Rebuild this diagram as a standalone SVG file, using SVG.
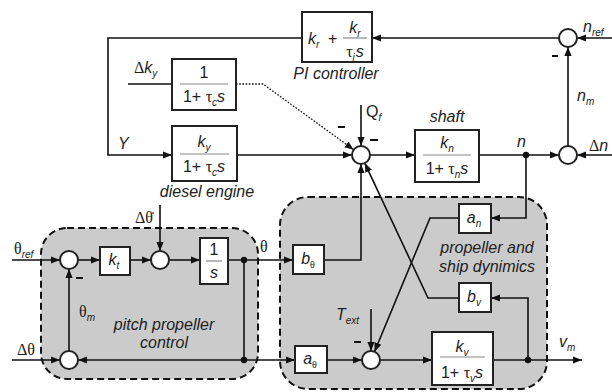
<svg xmlns="http://www.w3.org/2000/svg" width="612" height="392" viewBox="0 0 612 392">
<defs>
<marker id="ah" viewBox="0 0 10 10" refX="10" refY="5" markerWidth="9" markerHeight="9" orient="auto" markerUnits="userSpaceOnUse"><path d="M0,1 L10,5 L0,9 z" fill="#111"/></marker>
<style>
.t{font-family:"Liberation Sans",Arial,sans-serif;font-size:16px;fill:#222}
.i{font-style:italic}
.g{font-family:"Liberation Serif","Times New Roman",serif}
.sub{font-size:10px}
.ln{stroke:#111;stroke-width:1.6;fill:none}
.ar{marker-end:url(#ah)}
.dot{stroke:#111;stroke-width:1.3;fill:none;stroke-dasharray:1.6 1.6}
.box{fill:#fff;stroke:#222;stroke-width:2}
.sum{fill:#fff;stroke:#222;stroke-width:2}
.frac{stroke:#888;stroke-width:1.2}
.reg{fill:#cbcbcb;stroke:#111;stroke-width:2;stroke-dasharray:7 4}
.minus{stroke:#111;stroke-width:2}
.nd{fill:#111}
</style>
</defs>
<rect width="612" height="392" fill="#fff"/>

<g id="region-pitch">
<rect class="reg" x="41" y="228" width="217" height="151" rx="26"/>
<text class="t i" x="164" y="330" text-anchor="middle">pitch propeller</text>
<text class="t i" x="164" y="348" text-anchor="middle">control</text>
</g>
<g id="region-ship">
<rect class="reg" x="280" y="197" width="267" height="192" rx="28"/>
<text class="t i" x="487" y="253" text-anchor="middle">propeller and</text>
<text class="t i" x="487" y="272" text-anchor="middle">ship dynimics</text>
</g>

<g id="connectors">
<path class="ln ar" d="M612,38 L577,38"/>
<path class="ln ar" d="M559,38 L372,38"/>
<path class="ln ar" d="M302,38 L108,38 L108,155 L172,155"/>
<path class="ln" d="M128,84 L172,84"/>
<path class="dot ar" d="M236,84 L263,84 L353.7,149.7"/>
<path class="ln ar" d="M237,155 L352,155"/>
<path class="ln ar" d="M361,105 L361,146"/>
<path class="ln ar" d="M370,155 L415,155"/>
<path class="ln ar" d="M479,155 L559,155"/>
<path class="ln ar" d="M612,155 L577,155"/>
<path class="ln ar" d="M568,146 L568,47"/>
<path class="ln ar" d="M526,155 L526,218 L491,218"/>
<path class="ln ar" d="M459,218 L430,218 L374.5,351.7"/>
<path class="ln ar" d="M493,360 L582,360"/>
<path class="ln ar" d="M528,360 L528,298 L491,298"/>
<path class="ln ar" d="M459,298 L428,298 L364.8,163.1"/>
<path class="ln ar" d="M324,260 L361,260 L361,164"/>
<path class="ln ar" d="M228,260 L293,260"/>
<path class="ln" d="M244,260 L244,360"/>
<path class="ln ar" d="M244,360 L78,360"/>
<path class="ln ar" d="M244,360 L295,360"/>
<path class="ln ar" d="M327,360 L362,360"/>
<path class="ln ar" d="M380,360 L432,360"/>
<path class="ln ar" d="M371,309 L371,351"/>
<path class="ln ar" d="M12,260 L60,260"/>
<path class="ln ar" d="M78,260 L100,260"/>
<path class="ln ar" d="M130,260 L151,260"/>
<path class="ln ar" d="M160,205 L160,251"/>
<path class="ln ar" d="M169,260 L200,260"/>
<path class="ln ar" d="M12,360 L60,360"/>
<path class="ln ar" d="M69,351 L69,269"/>
<circle class="nd" cx="526" cy="155" r="3.2"/>
<circle class="nd" cx="528" cy="360" r="3.2"/>
<circle class="nd" cx="244" cy="260" r="3.2"/>
<circle class="nd" cx="244" cy="360" r="3.2"/>
</g>

<g id="pi-controller">
<rect class="box" x="302" y="12" width="70" height="50"/>
<text class="t i" x="308" y="44">k<tspan class="sub" dy="4">r</tspan></text>
<text class="t" x="328" y="44">+</text>
<text class="t i" x="355" y="33" text-anchor="middle">k<tspan class="sub" dy="4">r</tspan></text>
<line class="frac" x1="343" y1="38" x2="367" y2="38"/>
<text class="t" x="355" y="57" text-anchor="middle"><tspan class="g">τ</tspan><tspan class="sub i" dy="4">i</tspan><tspan class="i" dx="1" dy="-4">s</tspan></text>
<text class="t i" x="336" y="79" text-anchor="middle">PI controller</text>
</g>

<g id="sum-nref">
<circle class="sum" cx="568" cy="38" r="9"/>
<line class="minus" x1="552" y1="56" x2="558" y2="56"/>
<text class="t i" x="583" y="32">n<tspan class="sub" dy="4">ref</tspan></text>
<text class="t i" x="577" y="101">n<tspan class="sub" dy="4">m</tspan></text>
</g>

<g id="sum-dn">
<circle class="sum" cx="568" cy="155" r="9"/>
<text class="t" x="589" y="151"><tspan class="g">Δ</tspan><tspan class="i">n</tspan></text>
</g>

<g id="dky-filter">
<rect class="box" x="172" y="59" width="64" height="51"/>
<text class="t" x="204" y="78" text-anchor="middle">1</text>
<line class="frac" x1="180" y1="84" x2="228" y2="84"/>
<text class="t" x="204" y="102" text-anchor="middle">1+ <tspan class="g">τ</tspan><tspan class="sub i" dy="4">c</tspan><tspan class="i" dy="-4">s</tspan></text>
<text class="t" x="134" y="73"><tspan class="g">Δ</tspan><tspan class="i">k</tspan><tspan class="sub i" dy="4">y</tspan></text>
</g>

<g id="diesel-engine">
<rect class="box" x="172" y="126" width="65" height="55"/>
<text class="t i" x="204" y="147" text-anchor="middle">k<tspan class="sub" dy="4">y</tspan></text>
<line class="frac" x1="180" y1="154" x2="229" y2="154"/>
<text class="t" x="204" y="172" text-anchor="middle">1+ <tspan class="g">τ</tspan><tspan class="sub i" dy="4">c</tspan><tspan class="i" dy="-4">s</tspan></text>
<text class="t i" x="207" y="197" text-anchor="middle">diesel engine</text>
<text class="t i" x="118" y="149">Y</text>
</g>

<g id="sum-torque">
<circle class="sum" cx="361" cy="155" r="9"/>
<line class="minus" x1="338" y1="127" x2="345" y2="127"/>
<line class="minus" x1="370" y1="140" x2="378" y2="140"/>
<text class="t" x="366" y="117">Q<tspan class="sub i" dy="4">f</tspan></text>
</g>

<g id="shaft">
<rect class="box" x="415" y="130" width="64" height="52"/>
<text class="t i" x="447" y="148" text-anchor="middle">k<tspan class="sub" dy="4">n</tspan></text>
<line class="frac" x1="423" y1="155" x2="471" y2="155"/>
<text class="t" x="447" y="174" text-anchor="middle">1+ <tspan class="g">τ</tspan><tspan class="sub i" dy="4">n</tspan><tspan class="i" dy="-4">s</tspan></text>
<text class="t i" x="447" y="122" text-anchor="middle">shaft</text>
<text class="t i" x="517" y="147">n</text>
</g>

<g id="an">
<rect class="box" x="459" y="204" width="32" height="29"/>
<text class="t i" x="474" y="223" text-anchor="middle">a<tspan class="sub" dy="4">n</tspan></text>
</g>

<g id="bv">
<rect class="box" x="459" y="283" width="32" height="29"/>
<text class="t i" x="474" y="302" text-anchor="middle">b<tspan class="sub" dy="4">v</tspan></text>
</g>

<g id="btheta">
<rect class="box" x="293" y="245" width="31" height="29"/>
<text class="t i" x="308" y="264" text-anchor="middle">b<tspan class="sub g" dy="4" font-style="normal">θ</tspan></text>
<text class="t g" x="260" y="252">θ</text>
</g>

<g id="atheta">
<rect class="box" x="295" y="346" width="32" height="27"/>
<text class="t i" x="310" y="364" text-anchor="middle">a<tspan class="sub g" dy="4" font-style="normal">θ</tspan></text>
</g>

<g id="sum-thrust">
<circle class="sum" cx="371" cy="360" r="9"/>
<line class="minus" x1="354" y1="342" x2="361" y2="342"/>
<text class="t i" x="336" y="320">T<tspan class="sub" dy="4">ext</tspan></text>
</g>

<g id="ship-speed">
<rect class="box" x="432" y="332" width="61" height="53"/>
<text class="t i" x="462" y="352" text-anchor="middle">k<tspan class="sub" dy="4">v</tspan></text>
<line class="frac" x1="440" y1="357" x2="485" y2="357"/>
<text class="t" x="462" y="378" text-anchor="middle">1+ <tspan class="g">τ</tspan><tspan class="sub i" dy="4">v</tspan><tspan class="i" dy="-4">s</tspan></text>
<text class="t i" x="559" y="347">v<tspan class="sub" dy="4">m</tspan></text>
</g>

<g id="sum-thetaref">
<circle class="sum" cx="69" cy="260" r="9"/>
<line class="minus" x1="76" y1="278" x2="83" y2="278"/>
<text class="t" x="14" y="254"><tspan class="g">θ</tspan><tspan class="sub i" dy="4">ref</tspan></text>
</g>

<g id="kt">
<rect class="box" x="100" y="247" width="30" height="28"/>
<text class="t i" x="114" y="265" text-anchor="middle">k<tspan class="sub" dy="4">t</tspan></text>
</g>

<g id="sum-dthetadot">
<circle class="sum" cx="160" cy="260" r="9"/>
<text class="t g" x="135" y="223">Δθ̇</text>
</g>

<g id="integrator">
<rect class="box" x="200" y="238" width="28" height="46"/>
<text class="t" x="214" y="255" text-anchor="middle">1</text>
<line class="frac" x1="206" y1="261" x2="222" y2="261"/>
<text class="t i" x="214" y="278" text-anchor="middle">s</text>
</g>

<g id="sum-thetam">
<circle class="sum" cx="69" cy="360" r="9"/>
<text class="t g" x="17" y="355">Δθ</text>
<text class="t" x="79" y="317"><tspan class="g">θ</tspan><tspan class="sub i" dy="4">m</tspan></text>
</g>
</svg>
